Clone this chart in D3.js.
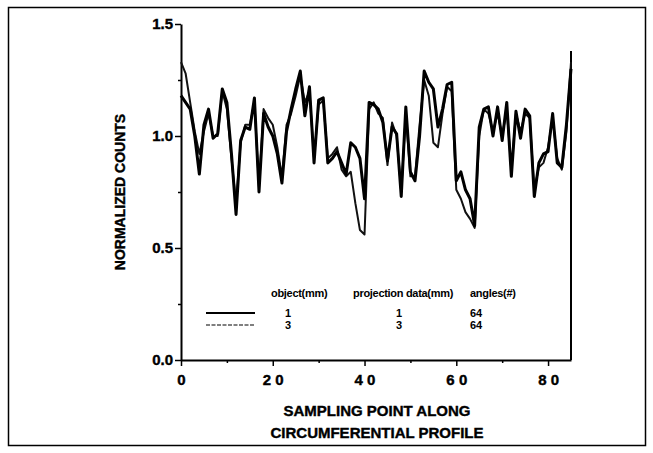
<!DOCTYPE html>
<html>
<head>
<meta charset="utf-8">
<script src="https://cdn.jsdelivr.net/npm/d3@7"></script>
<style>
    body { margin: 0; background: #fff; }
    svg text { font-family: "Liberation Sans", Arial, sans-serif; font-weight: bold; fill: #000; }
    svg text.heavy { stroke: #000; stroke-width: 0.4px; }
</style>
</head>
<body>
<div id="chart"></div>
<script>
/*global d3 */

// profile values, sampling points 0..85
var obj1 = [1.18, 1.15, 1.12, 1.00, 0.83, 1.05, 1.12, 0.99, 1.01, 1.21,
            1.15, 0.92, 0.65, 0.98, 1.04, 1.03, 1.17, 0.75, 1.10, 1.04,
            1.00, 0.92, 0.79, 1.02, 1.12, 1.21, 1.29, 1.09, 1.22, 0.88,
            1.16, 1.17, 0.88, 0.90, 0.93, 0.88, 0.83, 0.97, 0.95, 0.90,
            0.72, 1.15, 1.14, 1.12, 1.06, 0.89, 1.04, 1.01, 0.73, 1.13,
            0.84, 0.80, 1.00, 1.29, 1.24, 1.21, 1.04, 1.12, 1.23, 1.24,
            0.80, 0.84, 0.76, 0.72, 0.60, 1.04, 1.12, 1.13, 1.00, 1.13,
            0.98, 1.15, 0.82, 1.11, 0.99, 1.12, 1.09, 0.73, 0.88, 0.92,
            0.93, 1.10, 0.88, 0.86, 1.05, 1.30];
var obj3 = [1.33, 1.28, 1.15, 1.02, 0.92, 1.02, 1.10, 1.00, 1.00, 1.20,
            1.12, 0.90, 0.70, 0.97, 1.05, 1.05, 1.15, 0.77, 1.12, 1.08,
            1.05, 0.95, 0.82, 1.05, 1.10, 1.18, 1.27, 1.15, 1.20, 0.90,
            1.14, 1.16, 0.90, 0.92, 0.95, 0.85, 0.82, 0.84, 0.70, 0.58,
            0.56, 1.12, 1.15, 1.10, 1.08, 0.87, 1.06, 1.00, 0.75, 1.10,
            0.82, 0.82, 1.05, 1.25, 1.18, 0.97, 0.95, 1.10, 1.22, 1.20,
            0.76, 0.72, 0.66, 0.63, 0.59, 1.00, 1.12, 1.10, 1.02, 1.10,
            1.00, 1.12, 0.85, 1.10, 1.02, 1.10, 1.08, 0.76, 0.86, 0.88,
            0.95, 1.08, 0.90, 0.85, 1.02, 1.33];
var xTicks = [0, 20, 40, 60, 80];
var xMinor = [10, 30, 50, 70];
var yTicks = [0, 0.5, 1.0, 1.5];
var yMinor = [0.25, 0.75, 1.25];
var legendHead = ["object(mm)", "projection data(mm)", "angles(#)"];
var legendRows = [["1", "1", "64"], ["3", "3", "64"]];

(function () {
    "use strict";

    var W = 653, H = 453,
        m = {left: 181, top: 24, right: 82, bottom: 93},
        w = W - m.left - m.right, h = H - m.top - m.bottom,
        svg, g, x, y, line, lg;

    svg = d3.select("#chart").append("svg")
        .attr("width", W).attr("height", H);

    //outer frame
    svg.append("rect")
        .attr("x", 8.5).attr("y", 7.5)
        .attr("width", 637).attr("height", 438)
        .attr("fill", "none").attr("stroke", "#000").attr("stroke-width", 1.5);

    g = svg.append("g")
        .attr("transform", "translate(" + m.left + "," + m.top + ")");

    x = d3.scaleLinear().domain([0, 85]).range([0, w]);
    y = d3.scaleLinear().domain([0, 1.5]).range([h, 0]);

    //axes
    g.append("g")
        .attr("transform", "translate(0," + h + ")")
        .call(d3.axisBottom(x).tickValues(xMinor).tickSize(3).tickFormat(""))
        .call(function (a) { a.select(".domain").remove(); });
    g.append("g")
        .attr("transform", "translate(0," + h + ")")
        .call(d3.axisBottom(x).tickValues(xTicks).tickSize(6).tickSizeOuter(0)
              .tickFormat(function (d) { return String(d).split("").join(" "); }))
        .call(function (a) {
            a.select(".domain").attr("stroke-width", 2);
            a.selectAll("text").attr("font-size", 15).attr("dy", "1.05em")
                .attr("class", "heavy")
                .attr("font-family", "Liberation Sans, Arial, sans-serif");
        });
    g.append("g")
        .call(d3.axisLeft(y).tickValues(yMinor).tickSize(3).tickFormat(""))
        .call(function (a) { a.select(".domain").remove(); });
    g.append("g")
        .call(d3.axisLeft(y).tickValues(yTicks).tickSize(6).tickSizeOuter(0)
              .tickFormat(d3.format(".1f")))
        .call(function (a) {
            a.select(".domain").attr("stroke-width", 2);
            a.selectAll("text").attr("font-size", 15).attr("x", -8)
                .attr("class", "heavy")
                .attr("font-family", "Liberation Sans, Arial, sans-serif");
        });
    g.selectAll(".tick line").attr("stroke-width", 1.5);

    //right edge drop line at the last sample
    g.append("line")
        .attr("x1", x(85)).attr("x2", x(85))
        .attr("y1", y(0)).attr("y2", y(1.38))
        .attr("stroke", "#000").attr("stroke-width", 2);

    line = d3.line()
        .x(function (d, i) { return x(i); })
        .y(function (d) { return y(d); });

    g.append("path").datum(obj3)
        .attr("d", line).attr("fill", "none")
        .attr("stroke", "#111").attr("stroke-width", 2)
        .attr("stroke-linejoin", "round");
    g.append("path").datum(obj1)
        .attr("d", line).attr("fill", "none")
        .attr("stroke", "#000").attr("stroke-width", 3)
        .attr("stroke-linejoin", "round");

    //axis titles
    svg.append("text")
        .attr("class", "heavy")
        .attr("x", 377).attr("y", 416)
        .attr("text-anchor", "middle").attr("font-size", 15)
        .text("SAMPLING POINT ALONG");
    svg.append("text")
        .attr("class", "heavy")
        .attr("x", 377).attr("y", 438)
        .attr("text-anchor", "middle").attr("font-size", 15)
        .text("CIRCUMFERENTIAL PROFILE");
    svg.append("text")
        .attr("class", "heavy")
        .attr("transform", "translate(125," + (m.top + h / 2) + ") rotate(-90)")
        .attr("text-anchor", "middle").attr("font-size", 14)
        .text("NORMALIZED COUNTS");

    //legend table
    lg = svg.append("g").attr("font-size", 11);
    lg.selectAll("text.head")
        .data(legendHead)
        .enter().append("text")
        .attr("class", "head")
        .attr("x", function (d, i) { return [271, 353, 470][i]; })
        .attr("y", 297)
        .attr("font-size", 11)
        .style("letter-spacing", "-0.3px")
        .text(function (d) { return d; });
    legendRows.forEach(function (row, r) {
        var ry = 317 + r * 12;
        lg.append("line")
            .attr("x1", 206).attr("x2", 255)
            .attr("y1", ry - 4).attr("y2", ry - 4)
            .attr("stroke", r === 0 ? "#000" : "#555")
            .attr("stroke-width", r === 0 ? 1.8 : 1.4)
            .attr("stroke-dasharray", r === 0 ? null : "4,1.5");
        lg.selectAll("text.r" + r)
            .data(row)
            .enter().append("text")
            .attr("class", "r" + r)
            .attr("x", function (d, i) { return [285, 396, 470][i]; })
            .attr("y", ry)
            .attr("font-size", 11)
            .text(function (d) { return d; });
    });
}());
</script>
</body>
</html>
